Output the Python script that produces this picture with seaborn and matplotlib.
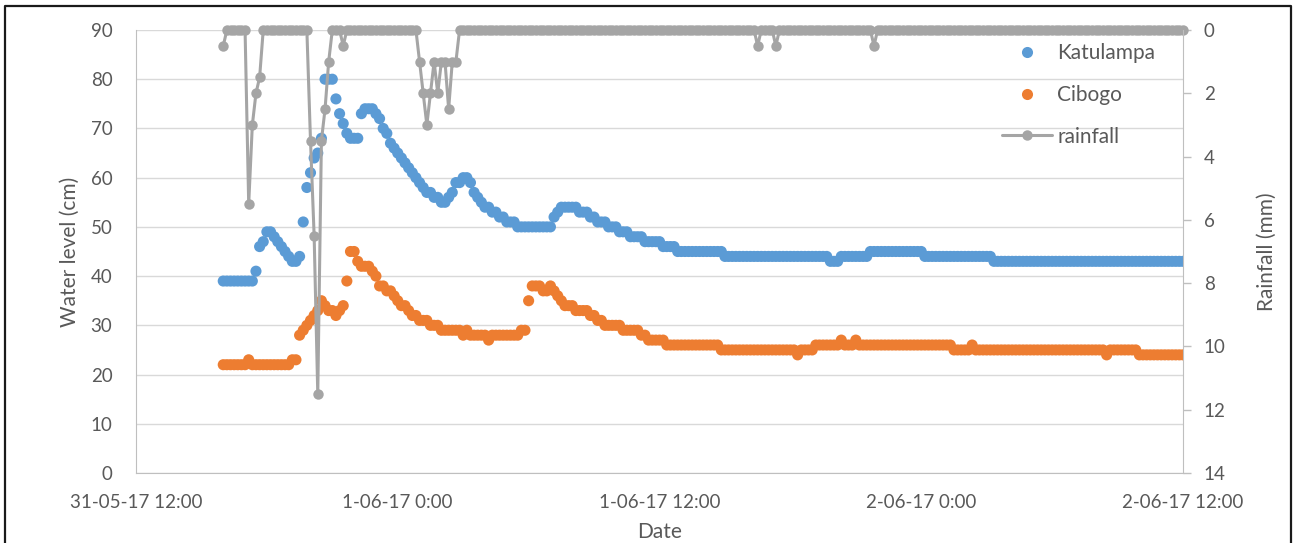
import pandas as pd
import matplotlib.pyplot as plt
from matplotlib.lines import Line2D
import seaborn as sns

# readings every 10 minutes, 31-05-17 16:00 -> 2-06-17 12:00
start_time = "2017-05-31 16:00"
step = "10min"

katulampa = [
    39, 39, 39, 39, 39, 39, 39, 39, 39, 41,
    46, 47, 49, 49, 48, 47, 46, 45, 44, 43,
    43, 44, 51, 58, 61, 64, 65, 68, 80, 80,
    80, 76, 73, 71, 69, 68, 68, 68, 73, 74,
    74, 74, 73, 72, 70, 69, 67, 66, 65, 64,
    63, 62, 61, 60, 59, 58, 57, 57, 56, 56,
    55, 55, 56, 57, 59, 59, 60, 60, 59, 57,
    56, 55, 54, 54, 53, 53, 52, 52, 51, 51,
    51, 50, 50, 50, 50, 50, 50, 50, 50, 50,
    50, 52, 53, 54, 54, 54, 54, 54, 53, 53,
    53, 52, 52, 51, 51, 51, 50, 50, 50, 49,
    49, 49, 48, 48, 48, 48, 47, 47, 47, 47,
    47, 46, 46, 46, 46, 45, 45, 45, 45, 45,
    45, 45, 45, 45, 45, 45, 45, 45, 44, 44,
    44, 44, 44, 44, 44, 44, 44, 44, 44, 44,
    44, 44, 44, 44, 44, 44, 44, 44, 44, 44,
    44, 44, 44, 44, 44, 44, 44, 43, 43, 43,
    44, 44, 44, 44, 44, 44, 44, 44, 45, 45,
    45, 45, 45, 45, 45, 45, 45, 45, 45, 45,
    45, 45, 45, 44, 44, 44, 44, 44, 44, 44,
    44, 44, 44, 44, 44, 44, 44, 44, 44, 44,
    44, 44, 43, 43, 43, 43, 43, 43, 43, 43,
    43, 43, 43, 43, 43, 43, 43, 43, 43, 43,
    43, 43, 43, 43, 43, 43, 43, 43, 43, 43,
    43, 43, 43, 43, 43, 43, 43, 43, 43, 43,
    43, 43, 43, 43, 43, 43, 43, 43, 43, 43,
    43, 43, 43, 43, 43,
]

cibogo = [
    22, 22, 22, 22, 22, 22, 22, 23, 22, 22,
    22, 22, 22, 22, 22, 22, 22, 22, 22, 23,
    23, 28, 29, 30, 31, 32, 33, 35, 34, 33,
    33, 32, 33, 34, 39, 45, 45, 43, 42, 42,
    42, 41, 40, 38, 38, 37, 37, 36, 35, 34,
    34, 33, 32, 32, 31, 31, 31, 30, 30, 30,
    29, 29, 29, 29, 29, 29, 28, 29, 28, 28,
    28, 28, 28, 27, 28, 28, 28, 28, 28, 28,
    28, 28, 29, 29, 35, 38, 38, 38, 37, 37,
    38, 37, 36, 35, 34, 34, 34, 33, 33, 33,
    33, 32, 32, 31, 31, 30, 30, 30, 30, 30,
    29, 29, 29, 29, 29, 28, 28, 27, 27, 27,
    27, 27, 26, 26, 26, 26, 26, 26, 26, 26,
    26, 26, 26, 26, 26, 26, 26, 25, 25, 25,
    25, 25, 25, 25, 25, 25, 25, 25, 25, 25,
    25, 25, 25, 25, 25, 25, 25, 25, 24, 25,
    25, 25, 25, 26, 26, 26, 26, 26, 26, 26,
    27, 26, 26, 26, 27, 26, 26, 26, 26, 26,
    26, 26, 26, 26, 26, 26, 26, 26, 26, 26,
    26, 26, 26, 26, 26, 26, 26, 26, 26, 26,
    26, 25, 25, 25, 25, 25, 26, 25, 25, 25,
    25, 25, 25, 25, 25, 25, 25, 25, 25, 25,
    25, 25, 25, 25, 25, 25, 25, 25, 25, 25,
    25, 25, 25, 25, 25, 25, 25, 25, 25, 25,
    25, 25, 25, 24, 25, 25, 25, 25, 25, 25,
    25, 25, 24, 24, 24, 24, 24, 24, 24, 24,
    24, 24, 24, 24, 24,
]

rainfall = [
    0.5, 0, 0, 0, 0, 0, 0, 5.5, 3.0, 2.0,
    1.5, 0, 0, 0, 0, 0, 0, 0, 0, 0,
    0, 0, 0, 0, 3.5, 6.5, 11.5, 3.5, 2.5, 1.0,
    0, 0, 0, 0.5, 0, 0, 0, 0, 0, 0,
    0, 0, 0, 0, 0, 0, 0, 0, 0, 0,
    0, 0, 0, 0, 1.0, 2.0, 3.0, 2.0, 1.0, 2.0,
    1.0, 1.0, 2.5, 1.0, 1.0, 0, 0, 0, 0, 0,
    0, 0, 0, 0, 0, 0, 0, 0, 0, 0,
    0, 0, 0, 0, 0, 0, 0, 0, 0, 0,
    0, 0, 0, 0, 0, 0, 0, 0, 0, 0,
    0, 0, 0, 0, 0, 0, 0, 0, 0, 0,
    0, 0, 0, 0, 0, 0, 0, 0, 0, 0,
    0, 0, 0, 0, 0, 0, 0, 0, 0, 0,
    0, 0, 0, 0, 0, 0, 0, 0, 0, 0,
    0, 0, 0, 0, 0, 0, 0, 0.5, 0, 0,
    0, 0, 0.5, 0, 0, 0, 0, 0, 0, 0,
    0, 0, 0, 0, 0, 0, 0, 0, 0, 0,
    0, 0, 0, 0, 0, 0, 0, 0, 0, 0.5,
    0, 0, 0, 0, 0, 0, 0, 0, 0, 0,
    0, 0, 0, 0, 0, 0, 0, 0, 0, 0,
    0, 0, 0, 0, 0, 0, 0, 0, 0, 0,
    0, 0, 0, 0, 0, 0, 0, 0, 0, 0,
    0, 0, 0, 0, 0, 0, 0, 0, 0, 0,
    0, 0, 0, 0, 0, 0, 0, 0, 0, 0,
    0, 0, 0, 0, 0, 0, 0, 0, 0, 0,
    0, 0, 0, 0, 0, 0, 0, 0, 0, 0,
    0, 0, 0, 0, 0,
]

date_ticks = ["2017-05-31 12:00", "2017-06-01 00:00", "2017-06-01 12:00",
              "2017-06-02 00:00", "2017-06-02 12:00"]
date_labels = ["31-05-17 12:00", "1-06-17 0:00", "1-06-17 12:00",
               "2-06-17 0:00", "2-06-17 12:00"]

colors = {"Katulampa": "#5B9BD5", "Cibogo": "#ED7D31", "rainfall": "#A5A5A5"}
txt = "#595959"
fs = 15     # labels / legend
tfs = 13.5  # tick labels

times = pd.date_range(start_time, periods=len(katulampa), freq=step)
df = pd.DataFrame({"Date": times, "Katulampa": katulampa,
                   "Cibogo": cibogo, "rainfall": rainfall})
levels = df.melt(id_vars="Date", value_vars=["Katulampa", "Cibogo"],
                 var_name="station", value_name="level")

sns.set_style("white")
plt.rcParams["font.family"] = ["Lato", "DejaVu Sans"]

fig = plt.figure(figsize=(12.93, 5.43), dpi=100)
ax = fig.add_axes([136 / 1293, 70 / 543, 1047 / 1293, 443 / 543])

sns.scatterplot(data=levels, x="Date", y="level", hue="station",
                palette=colors, s=64, linewidth=0, ax=ax, legend=False)

ax2 = ax.twinx()
sns.lineplot(data=df, x="Date", y="rainfall", color=colors["rainfall"],
             marker="o", markersize=7.5, markeredgewidth=0, linewidth=2.2,
             clip_on=False, ax=ax2, legend=False)

ax.set_xlim(pd.Timestamp(date_ticks[0]), pd.Timestamp(date_ticks[-1]))
ax.set_xticks(pd.to_datetime(date_ticks))
ax.set_xticklabels(date_labels)
ax.set_ylim(0, 90)
ax.set_yticks(range(0, 91, 10))
ax2.set_ylim(14, 0)
ax2.set_yticks(range(0, 15, 2))

ax.yaxis.grid(True, color="#D9D9D9", linewidth=1)
ax.xaxis.grid(False)
for s in ["top", "right"]:
    ax.spines[s].set_visible(False)
for s in ["left", "bottom"]:
    ax.spines[s].set_color("#BFBFBF")
for s in ["top", "left", "bottom"]:
    ax2.spines[s].set_visible(False)
ax2.spines["right"].set_color("#BFBFBF")

ax.tick_params(axis="y", length=0, pad=17, labelsize=tfs, labelcolor=txt)
ax.tick_params(axis="x", length=0, pad=15, labelsize=tfs, labelcolor=txt)
ax2.tick_params(axis="y", length=6, width=1, color="#BFBFBF", pad=9,
                labelsize=tfs, labelcolor=txt)

ax.set_xlabel("Date", fontsize=fs, color=txt)
ax.set_ylabel("Water level (cm)", fontsize=fs, color=txt)
ax2.set_ylabel("Rainfall (mm)", fontsize=fs, color=txt)
ax.xaxis.set_label_coords(0.5, -0.11)
ax.yaxis.set_label_coords(-0.054, 0.5)
ax2.yaxis.set_label_coords(1.071, 0.5)

handles = [
    Line2D([], [], linestyle="none", marker="o", markersize=8,
           markeredgewidth=0, color=colors["Katulampa"]),
    Line2D([], [], linestyle="none", marker="o", markersize=8,
           markeredgewidth=0, color=colors["Cibogo"]),
    Line2D([], [], marker="o", markersize=7.5, markeredgewidth=0,
           linewidth=2.2, color=colors["rainfall"]),
]
fig.legend(handles, ["Katulampa", "Cibogo", "rainfall"], loc="upper left",
           bbox_to_anchor=(1002 / 1293, 1 - 43 / 543), frameon=False,
           fontsize=fs, labelcolor=txt, handlelength=2.4, handletextpad=0.25,
           labelspacing=1.05, borderpad=0, borderaxespad=0)

# dark frame round the chart (bottom edge is cut off in the screenshot)
x0, x1, y1 = 4.5 / 1293, 1290.5 / 1293, 1 - 5.5 / 543
fig.add_artist(Line2D([x0, x0, x1, x1], [-0.02, y1, y1, -0.02],
                      transform=fig.transFigure, color="#1A1A1A", linewidth=1.6))

fig.savefig("out.png", dpi=100)
plt.close()
